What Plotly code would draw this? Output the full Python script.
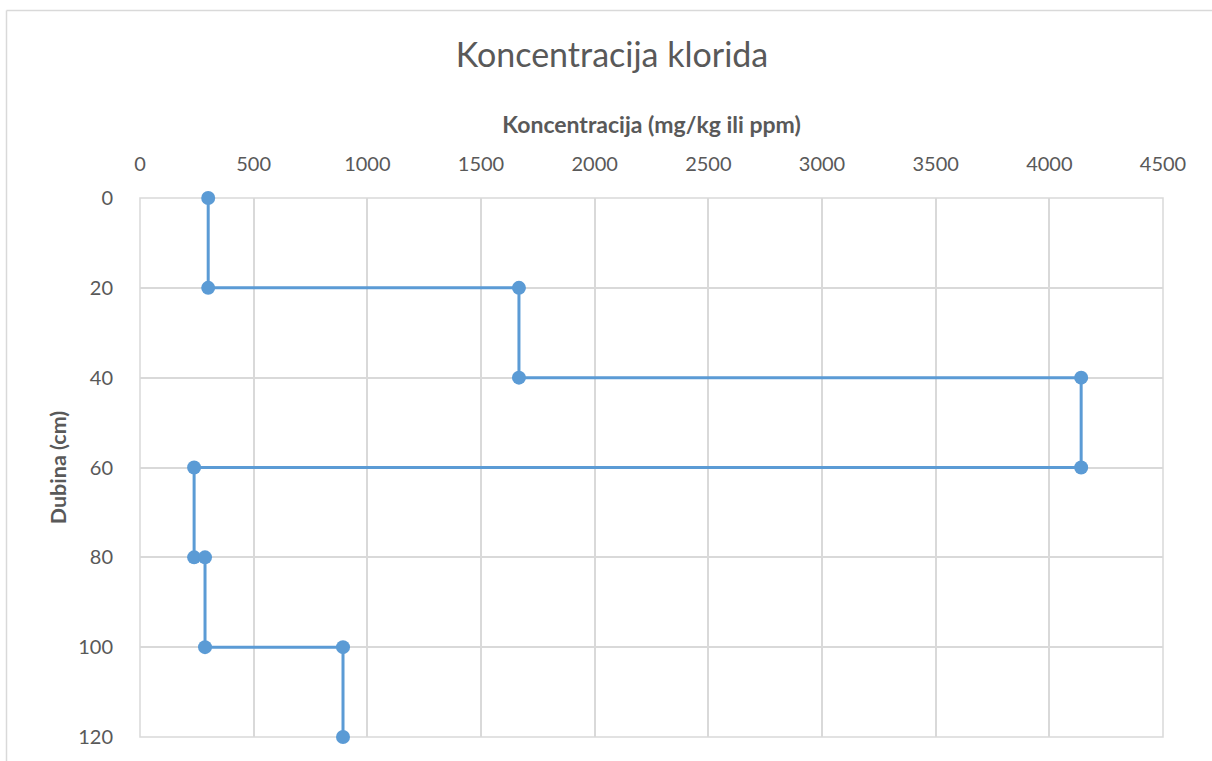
import plotly.graph_objects as go

concentration = [300, 300, 1667, 1667, 4140, 4140, 238, 238, 286, 286, 893, 893]
depth = [0, 20, 20, 40, 40, 60, 60, 80, 80, 100, 100, 120]
x_ticks = [0, 500, 1000, 1500, 2000, 2500, 3000, 3500, 4000, 4500]
y_ticks = [0, 20, 40, 60, 80, 100, 120]

W, H = 1212, 761
L, T = 140, 198
R, B = W - 1163, H - 737
pw, ph = W - L - R, H - T - B

fig = go.Figure()
fig.add_trace(go.Scatter(
    x=concentration, y=depth, mode="lines+markers",
    line=dict(color="#5b9bd5", width=3),
    marker=dict(color="#5b9bd5", size=14),
    cliponaxis=False,
    showlegend=False,
))

font = "Lato, 'Open Sans', sans-serif"
fig.update_layout(
    width=W, height=H,
    margin=dict(l=L, r=R, t=T, b=B, pad=0),
    paper_bgcolor="white", plot_bgcolor="white",
    font=dict(family=font, color="#595959", size=20),
    title=dict(text="Koncentracija klorida", x=612 / W, xanchor="center",
               y=1 - 55 / H, yanchor="middle",
               font=dict(size=34, color="#595959", family=font)),
    xaxis=dict(
        side="top", range=[0, 4500], tickvals=x_ticks, ticktext=[str(v) for v in x_ticks],
        showgrid=True, gridcolor="#d9d9d9", gridwidth=1.5, zeroline=False,
        showline=False, ticks="outside", ticklen=18, tickcolor="rgba(0,0,0,0)",
        title=dict(text="<b>Koncentracija (mg/kg ili ppm)</b>", font=dict(size=23, color="#595959"),
                   standoff=10),
    ),
    yaxis=dict(
        range=[120, 0], tickvals=y_ticks, ticktext=[str(v) for v in y_ticks],
        showgrid=True, gridcolor="#d9d9d9", gridwidth=1.5, zeroline=False,
        showline=False, ticks="outside", ticklen=22, tickcolor="rgba(0,0,0,0)",
        title=dict(text="<b>Dubina (cm)</b>", font=dict(size=21.5, color="#595959"), standoff=5),
    ),
)

# plot-area frame (gridline colour)
fig.add_shape(type="rect", xref="paper", yref="paper", x0=0, x1=1, y0=0, y1=1,
              line=dict(color="#d9d9d9", width=1.5), layer="below")
# chart-area border: only top and left edges are visible
bx0 = (6.5 - L) / pw
by1 = (H - B - 10.5) / ph
fig.add_shape(type="line", xref="paper", yref="paper",
              x0=bx0, x1=(W - L) / pw, y0=by1, y1=by1,
              line=dict(color="#d9d9d9", width=1.5), layer="below")
fig.add_shape(type="line", xref="paper", yref="paper",
              x0=bx0, x1=bx0, y0=-B / ph, y1=by1,
              line=dict(color="#d9d9d9", width=1.5), layer="below")

fig.write_html(
    "out.html",
    config={"displayModeBar": False},
    post_script="document.body.style.margin='0';"
                "document.documentElement.style.overflow='hidden';"
                "document.body.style.overflow='hidden';",
)
